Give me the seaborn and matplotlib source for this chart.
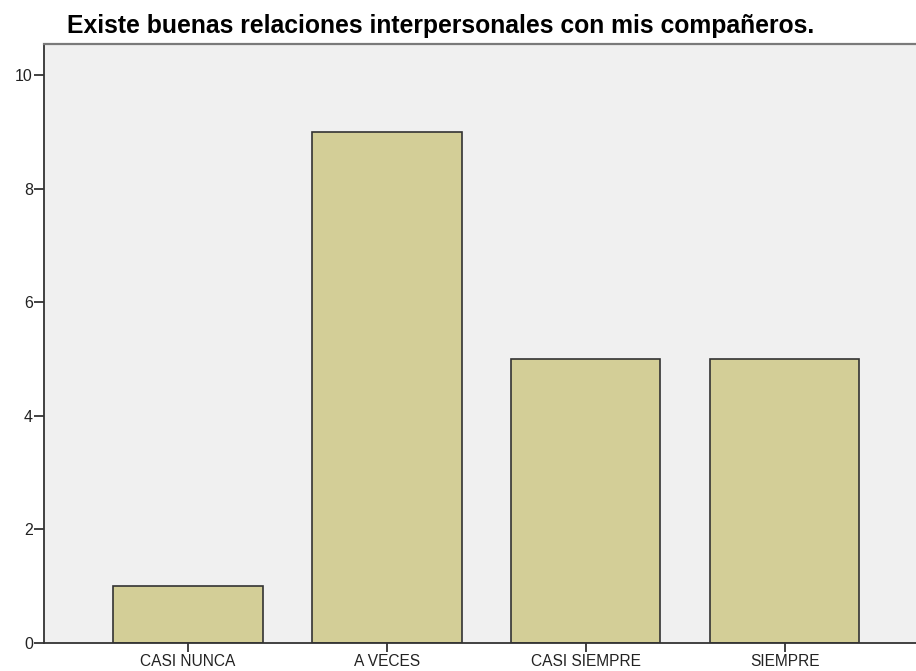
import pandas as pd
import matplotlib.pyplot as plt
import seaborn as sns

categories = ['CASI NUNCA', 'A VECES', 'CASI SIEMPRE', 'SIEMPRE']
counts = [1, 9, 5, 5]
title = 'Existe buenas relaciones interpersonales con mis compañeros.'

df = pd.DataFrame({'respuesta': categories, 'frecuencia': counts})

sns.set_style('white')
plt.rcParams['font.family'] = ['Liberation Sans', 'DejaVu Sans']

fig = plt.figure(figsize=(9.16, 6.71), dpi=100)
ax = fig.add_axes([44 / 916, 28 / 671, 872 / 916, 599 / 671])
ax.set_facecolor('#F0F0F0')

sns.barplot(data=df, x='respuesta', y='frecuencia', order=categories,
            color='#D3CE97', saturation=1, width=0.75,
            edgecolor='#333333', linewidth=1.2, ax=ax)

ax.set_xlim(-0.724, 3.66)
ax.set_ylim(0, 10.55)
ax.set_yticks([0, 2, 4, 6, 8, 10])
ax.set_xlabel('')
ax.set_ylabel('')

for side in ['left', 'bottom']:
    ax.spines[side].set_color('#333333')
    ax.spines[side].set_linewidth(1.3)
ax.spines['top'].set_color('#7a7a7a')
ax.spines['top'].set_linewidth(1.6)
ax.spines['right'].set_visible(False)

ax.tick_params(axis='y', direction='out', length=7.5, width=1.3, color='#333333',
               labelsize=11.5, labelcolor='#222222', left=True, pad=0.5)
ax.tick_params(axis='x', direction='out', length=6.5, width=1.3, color='#333333',
               labelsize=11.2, labelcolor='#222222', bottom=True, pad=1.5)

fig.text(67 / 916, 1 - 33 / 671, title, fontsize=17.8, fontweight='bold',
         ha='left', va='baseline', color='black')

fig.savefig('out.png', dpi=100)
